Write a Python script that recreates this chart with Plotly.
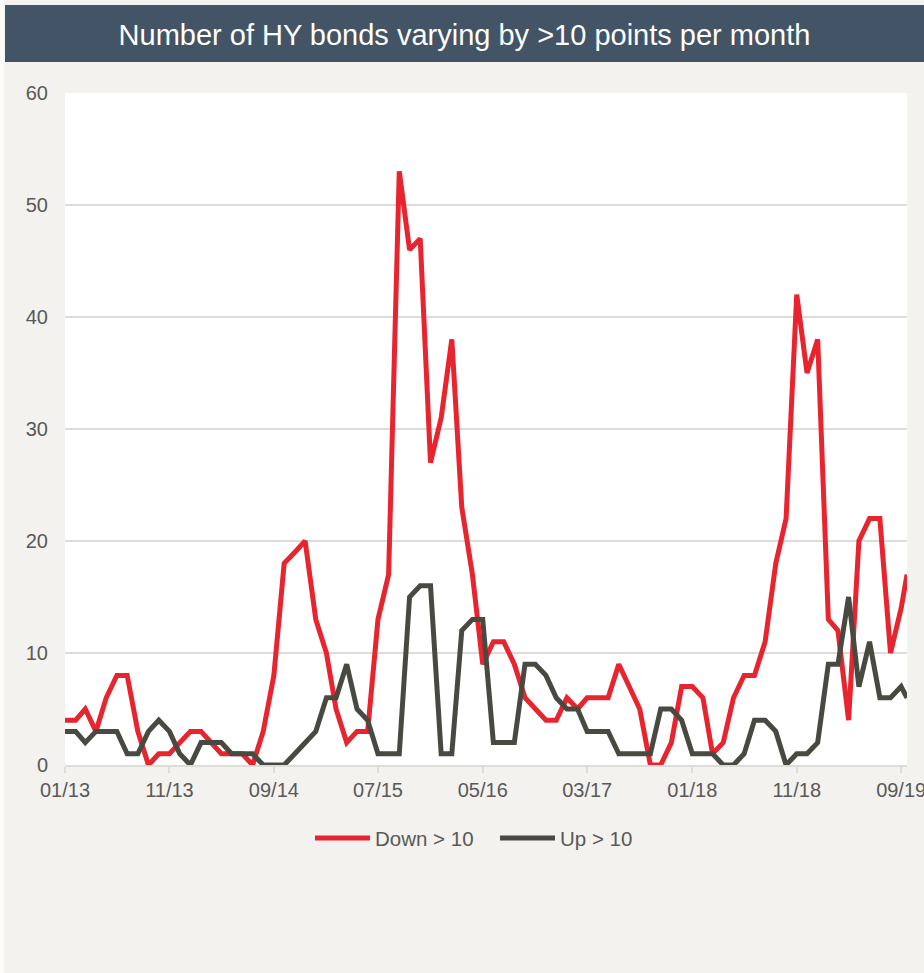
import pandas as pd
import plotly.graph_objects as go

# Monthly observations Jan 2013 - Sep 2019, plus a month-to-date reading for Sep 2019
months = list(pd.date_range("2013-01-01", "2019-09-01", freq="MS").strftime("%Y-%m-%d")) + ["2019-09-18"]

down_gt_10 = [4, 4, 5, 3, 6, 8, 8, 3, 0, 1, 1, 2, 3, 3, 2, 1, 1, 1, 0, 3,
              8, 18, 19, 20, 13, 10, 5, 2, 3, 3, 13, 17, 53, 46, 47, 27, 31, 38, 23, 17,
              9, 11, 11, 9, 6, 5, 4, 4, 6, 5, 6, 6, 6, 9, 7, 5, 0, 0, 2, 7,
              7, 6, 1, 2, 6, 8, 8, 11, 18, 22, 42, 35, 38, 13, 12, 4, 20, 22, 22, 10,
              14, 17]

up_gt_10 = [3, 3, 2, 3, 3, 3, 1, 1, 3, 4, 3, 1, 0, 2, 2, 2, 1, 1, 1, 0,
            0, 0, 1, 2, 3, 6, 6, 9, 5, 4, 1, 1, 1, 15, 16, 16, 1, 1, 12, 13,
            13, 2, 2, 2, 9, 9, 8, 6, 5, 5, 3, 3, 3, 1, 1, 1, 1, 5, 5, 4,
            1, 1, 1, 0, 0, 1, 4, 4, 3, 0, 1, 1, 2, 9, 9, 15, 7, 11, 6, 6,
            7, 6]

tick_dates = ["2013-01-01", "2013-11-01", "2014-09-01", "2015-07-01", "2016-05-01",
              "2017-03-01", "2018-01-01", "2018-11-01", "2019-09-01"]
tick_labels = ["01/13", "11/13", "09/14", "07/15", "05/16", "03/17", "01/18", "11/18", "09/19"]

series_names = ["Down > 10", "Up > 10"]
series_colors = ["#e8242f", "#484a42"]

W, H = 924, 973
ML, MR, MT, MB = 65, 17, 93, 208
PW, PH = W - ML - MR, H - MT - MB
BG = "#f3f2ee"
TEXT = "#595959"
GRID = "#dedcd8"
FONT = "Liberation Sans, Arial, sans-serif"


def px_x(x):
    return (x - ML) / PW


def px_y(y):
    return (H - MB - y) / PH


fig = go.Figure()
for name, vals, col in zip(series_names, [down_gt_10, up_gt_10], series_colors):
    fig.add_trace(go.Scatter(x=months, y=vals, mode="lines", name=name,
                             line=dict(color=col, width=5), showlegend=False))

shapes = [
    # header bar
    dict(type="rect", xref="paper", yref="paper", x0=px_x(5), x1=px_x(W + 2),
         y0=px_y(62), y1=px_y(5), fillcolor="#435466", line=dict(width=0), layer="below"),
    # thin light edge on the left
    dict(type="rect", xref="paper", yref="paper", x0=px_x(-2), x1=px_x(4),
         y0=px_y(H + 2), y1=px_y(-2), fillcolor="#fbfbfa", line=dict(width=0), layer="below"),
]
annotations = []

# legend drawn as line samples with labels
legend_items = [(315, 370, 373), (500, 555, 558)]
for (lx0, lx1, tx), name, col in zip(legend_items, series_names, series_colors):
    shapes.append(dict(type="line", xref="paper", yref="paper", x0=px_x(lx0), x1=px_x(lx1),
                       y0=px_y(838), y1=px_y(838), line=dict(color=col, width=5)))
    annotations.append(dict(text=name, xref="paper", yref="paper", x=px_x(tx), y=px_y(838),
                            xanchor="left", yanchor="middle", showarrow=False,
                            font=dict(family=FONT, size=20.5, color=TEXT)))

fig.update_layout(
    width=W, height=H,
    margin=dict(l=ML, r=MR, t=MT, b=MB, autoexpand=False),
    paper_bgcolor=BG, plot_bgcolor="#ffffff",
    title=dict(text="Number of HY bonds varying by >10 points per month",
               x=(5 + W) / 2 / W, xanchor="center", y=1 - 35 / H, yanchor="middle",
               font=dict(family=FONT, size=29, color="#ffffff")),
    xaxis=dict(type="date", range=[months[0], months[-1]],
               tickvals=tick_dates, ticktext=tick_labels, automargin=False,
               showgrid=False, showline=True, linecolor=GRID, linewidth=1.5,
               ticks="outside", ticklen=6, tickcolor=GRID, tickwidth=1.5,
               ticklabelstandoff=0, ticklabeloverflow="allow",
               tickfont=dict(family=FONT, size=20, color=TEXT)),
    yaxis=dict(range=[0, 60], dtick=10, tick0=0, automargin=False,
               showgrid=True, gridcolor=GRID, gridwidth=1.5,
               zeroline=False, showline=False, ticks="",
               ticklabelstandoff=16,
               tickfont=dict(family=FONT, size=20, color=TEXT)),
    shapes=shapes,
    annotations=annotations,
    showlegend=False,
)

fig.write_html("out.html")
